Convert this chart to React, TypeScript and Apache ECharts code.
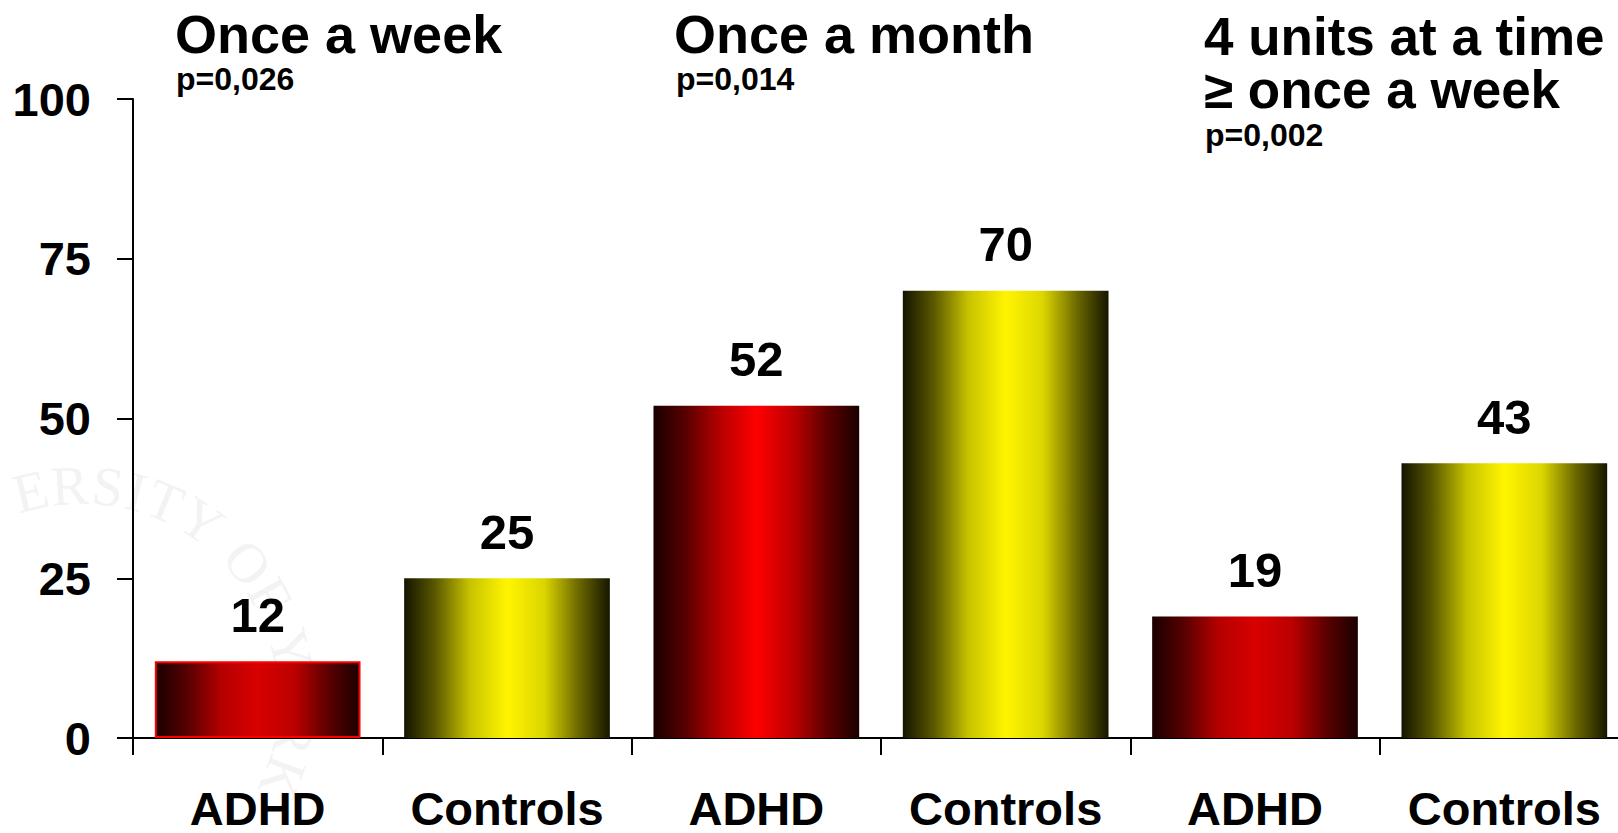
import React, { useEffect, useRef } from "react";
import * as echarts from "echarts";

// ---- data ----
const categories = ["ADHD", "Controls", "ADHD", "Controls", "ADHD", "Controls"];
const values = [12, 25, 52, 70, 19, 43];
const groupTitles = ["Once a week", "Once a month", "4 units at a time\n≥ once a week"];
const pValues = ["p=0,026", "p=0,014", "p=0,002"];
const yTicks = [0, 25, 50, 75, 100];
const watermark = "ERSITY OF YORK";

const FONT = "'Liberation Sans', Arial, sans-serif";

function redGrad(peak: string) {
  return new echarts.graphic.LinearGradient(0, 0, 1, 0, [
    { offset: 0, color: "#1a0000" },
    { offset: 0.15, color: "#550000" },
    { offset: 0.32, color: "#b40000" },
    { offset: 0.5, color: peak },
    { offset: 0.68, color: "#bc0000" },
    { offset: 0.85, color: "#5a0000" },
    { offset: 1, color: "#1a0000" },
  ]);
}
function yellowGrad() {
  return new echarts.graphic.LinearGradient(0, 0, 1, 0, [
    { offset: 0, color: "#141400" },
    { offset: 0.15, color: "#5a5800" },
    { offset: 0.32, color: "#c8c300" },
    { offset: 0.5, color: "#fff500" },
    { offset: 0.68, color: "#dcd600" },
    { offset: 0.85, color: "#6a6700" },
    { offset: 1, color: "#161600" },
  ]);
}

// approximate glyph widths (em) for the serif watermark letters
const WM_W: Record<string, number> = {
  E: 0.611, R: 0.667, S: 0.556, I: 0.333, T: 0.611, Y: 0.722, O: 0.722, F: 0.556, K: 0.722, " ": 0.25,
};

export default function App() {
  const ref = useRef<HTMLDivElement>(null);
  useEffect(() => {
    if (!ref.current) return;
    const chart = echarts.init(ref.current, undefined, { renderer: "svg" });

    const peaks = ["#d80000", "", "#ff0000", "", "#d80000", ""];
    const seriesData = values.map((v, i) => {
      const isRed = categories[i] === "ADHD";
      return {
        value: v,
        itemStyle: isRed
          ? {
              color: redGrad(peaks[i]),
              borderColor: i === 0 ? "#ff0000" : "transparent",
              borderWidth: i === 0 ? 2 : 0,
            }
          : { color: yellowGrad() },
      };
    });

    // faint watermark letters along an arc
    const cx = 82, cy = 700, r = 215, fs = 56, gap = 4;
    const wm: any[] = [];
    let arc = -52;
    const chars = watermark.split("");
    chars.forEach((ch, i) => {
      if (ch !== " ") {
        const t = arc / r;
        wm.push({
          type: "text",
          x: cx + r * Math.sin(t),
          y: cy - r * Math.cos(t),
          rotation: -t,
          z: -10,
          silent: true,
          style: {
            text: ch,
            fill: "#f3f3f3",
            fontSize: fs,
            fontFamily: "'Liberation Serif', 'DejaVu Serif', serif",
            align: "center",
            verticalAlign: "middle",
            textAlign: "center",
            textVerticalAlign: "middle",
          },
        });
      }
      const nxt = chars[i + 1];
      if (nxt !== undefined) {
        arc += ((WM_W[ch] || 0.6) / 2 + (WM_W[nxt] || 0.6) / 2) * fs + gap;
      }
    });

    const txt = (text: string, x: number, y: number, size: number, lh?: number) => ({
      type: "text",
      x,
      y,
      z: 100,
      style: {
        text,
        fill: "#000",
        fontSize: size,
        fontWeight: "bold",
        fontFamily: FONT,
        lineHeight: lh || size,
        align: "left",
        verticalAlign: "middle",
        textAlign: "left",
        textVerticalAlign: "middle",
      },
    });

    chart.setOption({
      animation: false,
      backgroundColor: "#ffffff",
      grid: {
        left: 133,
        width: 1496,
        top: 99,
        bottom: 95,
        containLabel: false,
        outerBoundsMode: "none",
      },
      xAxis: {
        type: "category",
        data: categories,
        boundaryGap: true,
        axisLine: { show: true, lineStyle: { color: "#000", width: 2 } },
        axisTick: { show: true, length: 17, lineStyle: { color: "#000", width: 2 } },
        axisLabel: {
          margin: 50,
          fontSize: 47,
          lineHeight: 40,
          fontWeight: "bold",
          fontFamily: FONT,
          color: "#000",
          interval: 0,
        },
      },
      yAxis: {
        type: "value",
        min: yTicks[0],
        max: yTicks[yTicks.length - 1],
        interval: 25,
        splitLine: { show: false },
        axisLine: { show: true, lineStyle: { color: "#000", width: 2 } },
        axisTick: { show: true, length: 16, lineStyle: { color: "#000", width: 2 } },
        axisLabel: {
          margin: 42,
          fontSize: 47,
          fontWeight: "bold",
          fontFamily: FONT,
          color: "#000",
        },
      },
      series: [
        {
          type: "bar",
          data: seriesData,
          barWidth: "82.5%",
          label: {
            show: true,
            position: "top",
            distance: 22,
            fontSize: 49,
            fontWeight: "bold",
            fontFamily: FONT,
            color: "#000",
          },
        },
      ],
      graphic: [
        ...wm,
        txt(groupTitles[0], 175, 34, 54),
        txt(pValues[0], 176, 79, 32),
        txt(groupTitles[1], 674, 34, 54),
        txt(pValues[1], 676, 79, 32),
        txt(groupTitles[2], 1204, 63, 53, 53),
        txt(pValues[2], 1205, 135, 32, 30),
      ],
    });
    return () => chart.dispose();
  }, []);
  return (
    <div
      ref={ref}
      style={{ position: "fixed", left: 0, top: 0, width: 1618, height: 833 }}
    />
  );
}
